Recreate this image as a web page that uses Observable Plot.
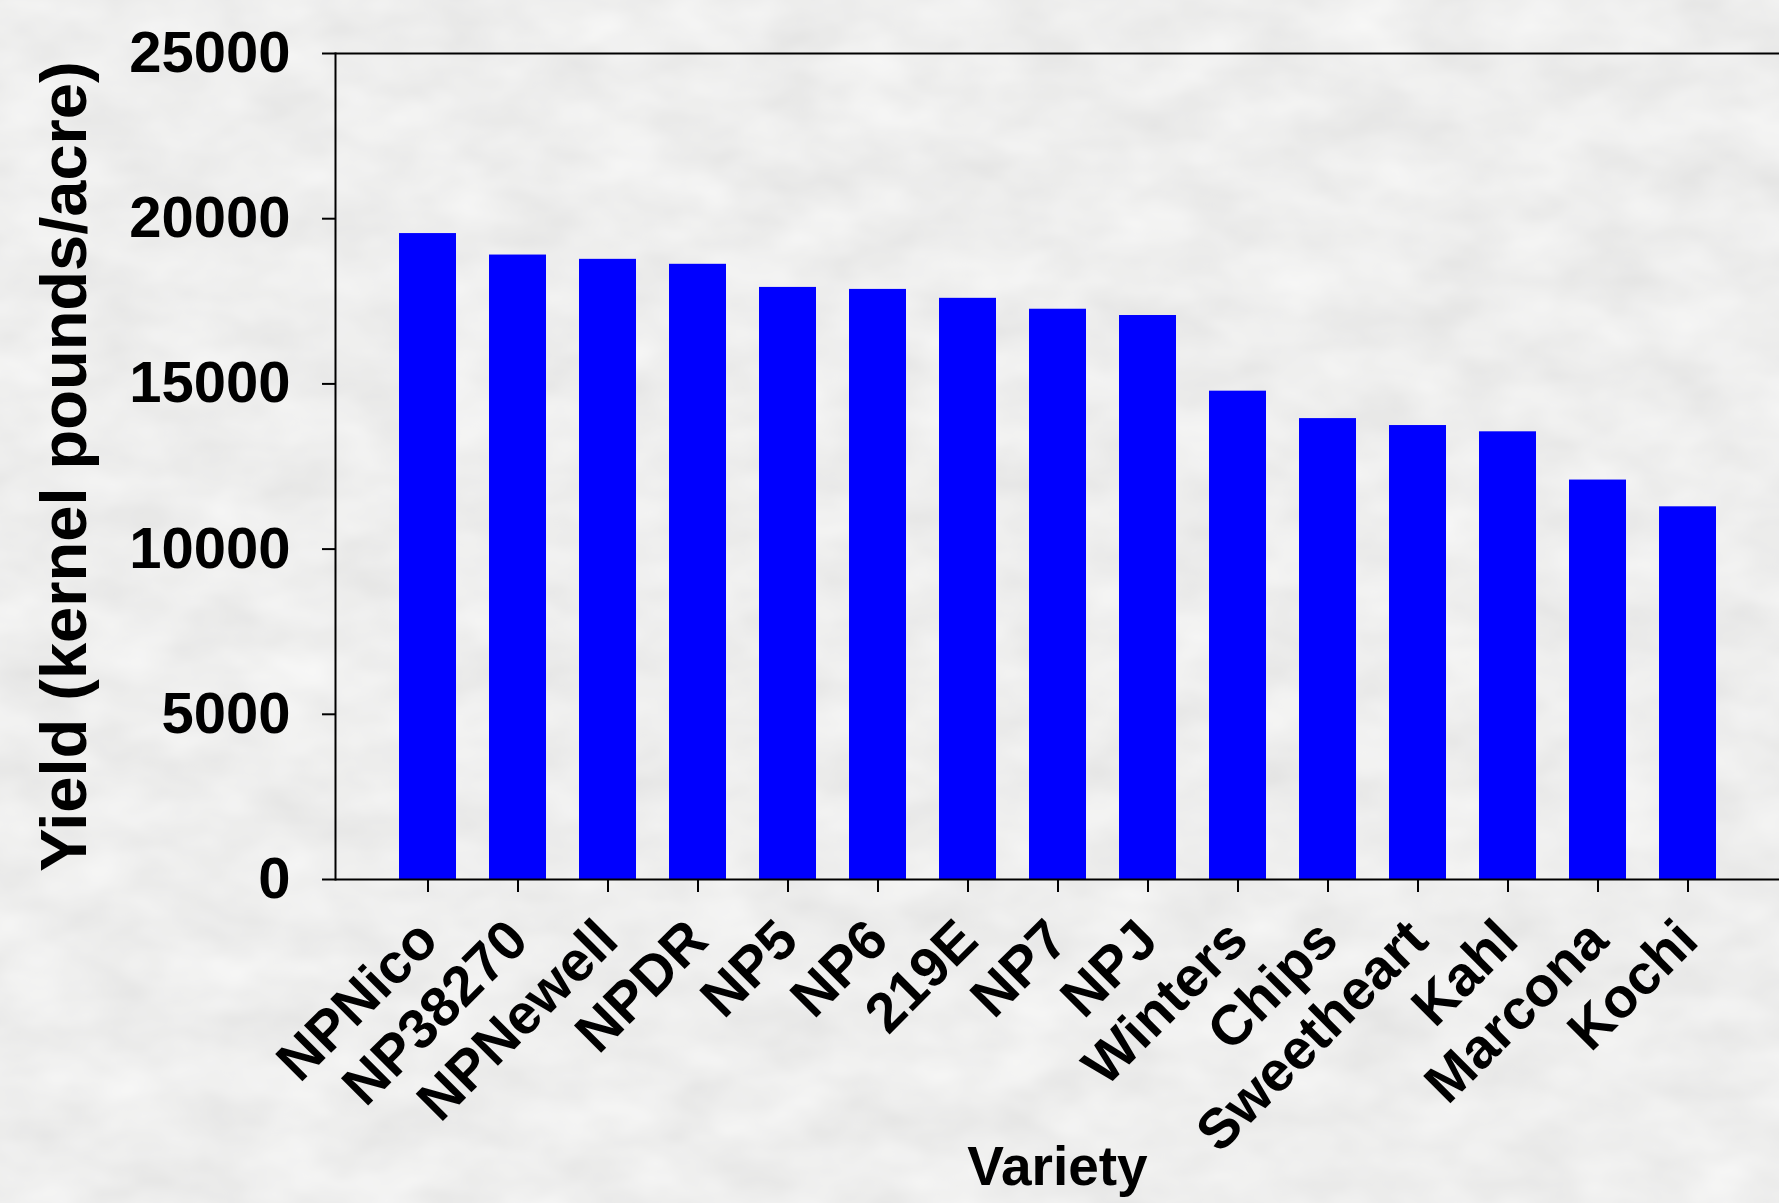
<!DOCTYPE html>
<html>
<head>
<meta charset="utf-8">
<script src="https://cdn.jsdelivr.net/npm/d3@7"></script>
<script src="https://cdn.jsdelivr.net/npm/@observablehq/plot@0.6"></script>
<style>
  html, body { margin: 0; padding: 0; background-color: #dcdcda; }
  #chart svg { display: block; }
</style>
</head>
<body>
<div id="chart"></div>
<script>
// Kernel yield by almond variety
const varieties = ["NPNico", "NP38270", "NPNewell", "NPDR", "NP5", "NP6", "219E", "NP7", "NPJ",
                   "Winters", "Chips", "Sweetheart", "Kahl", "Marcona", "Kochi"];
const yields = [19550, 18900, 18770, 18620, 17920, 17860, 17590, 17260, 17070,
                14780, 13950, 13740, 13550, 12090, 11280];
const yTicks = [0, 5000, 10000, 15000, 20000, 25000];
const yTitle = "Yield (kernel pounds/acre)";
const xTitle = "Variety";

const rows = varieties.map((v, i) => ({variety: v, yield: yields[i]}));

const font = "'Liberation Sans', Arial, Helvetica, sans-serif";

// soft marbled grey backdrop behind the chart
const backdrop = `<svg xmlns="http://www.w3.org/2000/svg" width="1779" height="1203">
  <filter id="m" x="0" y="0" width="100%" height="100%">
    <feTurbulence type="fractalNoise" baseFrequency="0.012 0.02" numOctaves="3" seed="7"/>
    <feColorMatrix type="matrix" values="0.18 0 0 0 0.765  0.18 0 0 0 0.765  0.18 0 0 0 0.76  0 0 0 0 1"/>
  </filter>
  <rect width="100%" height="100%" filter="url(#m)"/>
</svg>`;
document.body.style.backgroundImage = `url("data:image/svg+xml,${encodeURIComponent(backdrop)}")`;
document.body.style.backgroundRepeat = "no-repeat";

const chart = Plot.plot({
  width: 1779,
  height: 1203,
  marginLeft: 335,
  marginRight: 0,
  marginTop: 53,
  marginBottom: 324,
  style: {background: "transparent", fontFamily: font, fontWeight: "bold", color: "#000"},
  x: {domain: varieties, paddingInner: 0.368, paddingOuter: 0.685},
  y: {domain: [0, 25000]},
  marks: [
    Plot.barY(rows, {x: "variety", y: "yield", fill: "#0000ff"}),
    Plot.axisY({
      ticks: yTicks, tickFormat: d3.format("d"), tickSize: 13, tickPadding: 32,
      fontSize: 58, strokeWidth: 2, label: null
    }),
    Plot.axisX({
      tickSize: 13, tickPadding: 38, tickRotate: -45, fontSize: 56, strokeWidth: 2, label: null
    }),
    // axis titles
    Plot.text([yTitle], {
      frameAnchor: "left", textAnchor: "middle", dx: -270, rotate: -90,
      fontSize: 65, fontWeight: "bold", fill: "#000"
    }),
    Plot.text([xTitle], {
      frameAnchor: "bottom", lineAnchor: "bottom", dy: 305, fontSize: 55, fontWeight: "bold", fill: "#000"
    }),
    // plot frame: left, bottom and top edges
    Plot.frame({anchor: "left", strokeWidth: 2}),
    Plot.ruleY([0], {strokeWidth: 2}),
    Plot.ruleY([25000], {strokeWidth: 2})
  ]
});

document.getElementById("chart").appendChild(chart);
</script>
</body>
</html>
